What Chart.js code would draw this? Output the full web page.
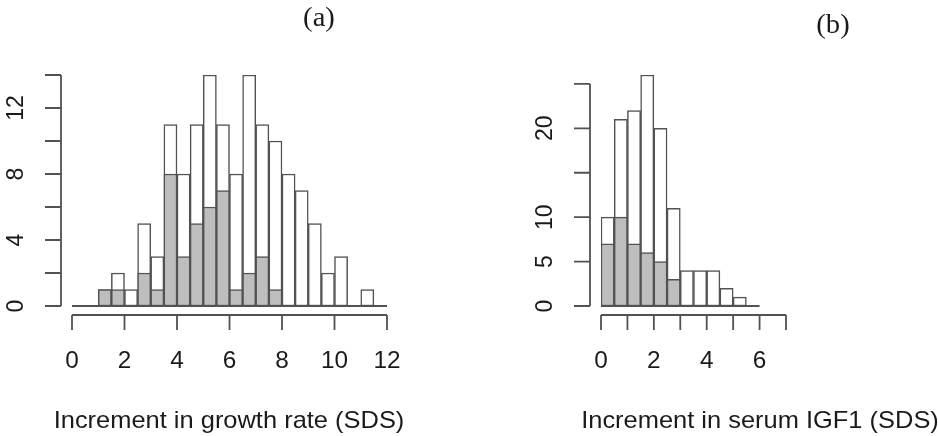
<!DOCTYPE html>
<html>
<head>
<meta charset="utf-8">
<script src="https://cdn.jsdelivr.net/npm/chart.js@4/dist/chart.umd.min.js"></script>
<style>
    html, body { margin: 0; padding: 0; background: #fff; }
    #wrap { position: relative; width: 938px; height: 436px; }
    canvas { position: absolute; top: 0; }
    #growth-chart { left: 0; }
    #igf-chart { left: 470px; }
</style>
</head>
<body>
<div id="wrap">
    <canvas id="growth-chart" width="470" height="436"></canvas>
    <canvas id="igf-chart" width="468" height="436"></canvas>
</div>
<script>
// histogram bins: width 0.5 starting at 0
const binWidth = 0.5;

// (a) increment in growth rate
const growthAll = [0, 0, 1, 2, 1, 5, 3, 11, 8, 11, 14, 11, 8, 14, 11, 10, 8, 7, 5, 2, 3, 0, 1, 0];
const growthSub = [0, 0, 1, 1, 0, 2, 1, 8, 3, 5, 6, 7, 1, 2, 3, 1, 0, 0, 0, 0, 0, 0, 0, 0];
const growthXTicks = [0, 2, 4, 6, 8, 10, 12];
const growthXLabels = [0, 2, 4, 6, 8, 10, 12];
const growthYTicks = [0, 2, 4, 6, 8, 10, 12, 14];
const growthYLabels = [0, 4, 8, 12];

// (b) increment in serum IGF1
const igfAll = [10, 21, 22, 26, 20, 11, 4, 4, 4, 2, 1, 0];
const igfSub = [7, 10, 7, 6, 5, 3, 0, 0, 0, 0, 0, 0];
const igfXTicks = [0, 1, 2, 3, 4, 5, 6, 7];
const igfXLabels = [0, 2, 4, 6];
const igfYTicks = [0, 5, 10, 15, 20, 25];
const igfYLabels = [0, 5, 10, 20];

const lineColor = '#525252';
const sansFont = '"Liberation Sans", Arial, sans-serif';
const serifFont = '"Liberation Serif", "Times New Roman", serif';

function drawText(ctx, text, x, y, font, rotate, stretch) {
    ctx.save();
    ctx.translate(x, y);
    if (rotate) ctx.rotate(-Math.PI / 2);
    if (stretch) ctx.scale(stretch, 1);
    ctx.font = font;
    ctx.fillText(text, 0, 0);
    ctx.restore();
}

// R-style detached axes, drawn with the chart's own scales
const rAxesPlugin = {
    id: 'rAxes',
    afterDatasetsDraw(chart, args, opts) {
        const { ctx } = chart;
        const x = chart.scales.x;
        const y = chart.scales.y;
        const yBase = y.getPixelForValue(0);
        const axisY = yBase + 9;
        const axisX = x.getPixelForValue(0) - 11;

        ctx.save();
        ctx.strokeStyle = lineColor;
        ctx.lineWidth = 1.8;
        ctx.beginPath();

        // baseline of the histogram (empty bins show as a flat line)
        ctx.moveTo(x.getPixelForValue(0), yBase);
        ctx.lineTo(x.getPixelForValue(opts.binCount * binWidth), yBase);

        // x axis
        const xs = opts.xTicks;
        ctx.moveTo(x.getPixelForValue(xs[0]), axisY);
        ctx.lineTo(x.getPixelForValue(xs[xs.length - 1]), axisY);
        xs.forEach((v) => {
            const px = x.getPixelForValue(v);
            ctx.moveTo(px, axisY);
            ctx.lineTo(px, axisY + 15);
        });

        // y axis
        const ys = opts.yTicks;
        ctx.moveTo(axisX, y.getPixelForValue(ys[0]));
        ctx.lineTo(axisX, y.getPixelForValue(ys[ys.length - 1]));
        ys.forEach((v) => {
            const py = y.getPixelForValue(v);
            ctx.moveTo(axisX, py);
            ctx.lineTo(axisX - 16, py);
        });
        ctx.stroke();

        ctx.fillStyle = '#1a1a1a';
        ctx.textAlign = 'center';
        ctx.textBaseline = 'middle';
        opts.xLabels.forEach((v) => {
            drawText(ctx, String(v), x.getPixelForValue(v), axisY + 47, '23px ' + sansFont, false, 1.06);
        });
        opts.yLabels.forEach((v) => {
            drawText(ctx, String(v), axisX - 44, y.getPixelForValue(v), '23px ' + sansFont, true);
        });

        ctx.textBaseline = 'alphabetic';
        drawText(ctx, opts.xTitle, opts.xTitlePos[0], opts.xTitlePos[1], '24px ' + sansFont, false, 1.06);
        drawText(ctx, opts.title, opts.titlePos[0], opts.titlePos[1], '27px ' + serifFont, false, 1.06);
        ctx.restore();
    },
};

function toPoints(values) {
    return values.map((v, i) => ({ x: (i + 0.5) * binWidth, y: v }));
}

function createHistogram(canvas, all, sub, cfg) {
    const barStyle = {
        borderColor: lineColor,
        borderWidth: 1.5,
        borderSkipped: false,
        grouped: false,
        barPercentage: 1,
        categoryPercentage: 1,
    };

    return new Chart(canvas, {
        type: 'bar',
        data: {
            datasets: [
                { ...barStyle, data: toPoints(sub), backgroundColor: '#bebebe', order: 0 },
                { ...barStyle, data: toPoints(all), backgroundColor: '#ffffff', order: 1 },
            ],
        },
        options: {
            responsive: false,
            animation: false,
            layout: {
                padding: cfg.padding,
            },
            plugins: {
                legend: {
                    display: false,
                },
                tooltip: {
                    enabled: false,
                },
                rAxes: cfg.axes,
            },
            scales: {
                x: {
                    type: 'linear',
                    min: 0,
                    max: cfg.xMax,
                    offset: false,
                    display: false,
                },
                y: {
                    min: 0,
                    max: cfg.yMax,
                    display: false,
                },
            },
        },
        plugins: [rAxesPlugin],
    });
}

function initCharts() {
    createHistogram(document.getElementById('growth-chart'), growthAll, growthSub, {
        padding: { left: 72, right: 83, top: 75, bottom: 130 },
        xMax: 12,
        yMax: 14,
        axes: {
            binCount: growthAll.length,
            xTicks: growthXTicks,
            xLabels: growthXLabels,
            yTicks: growthYTicks,
            yLabels: growthYLabels,
            xTitle: 'Increment in growth rate (SDS)',
            xTitlePos: [229, 428],
            title: '(a)',
            titlePos: [319, 26],
        },
    });

    createHistogram(document.getElementById('igf-chart'), igfAll, igfSub, {
        padding: { left: 131, right: 152, top: 75, bottom: 130 },
        xMax: 7,
        yMax: 26,
        axes: {
            binCount: igfAll.length,
            xTicks: igfXTicks,
            xLabels: igfXLabels,
            yTicks: igfYTicks,
            yLabels: igfYLabels,
            xTitle: 'Increment in serum IGF1 (SDS)',
            xTitlePos: [290, 428],
            title: '(b)',
            titlePos: [363, 33],
        },
    });
}

document.addEventListener('DOMContentLoaded', initCharts);
</script>
</body>
</html>
